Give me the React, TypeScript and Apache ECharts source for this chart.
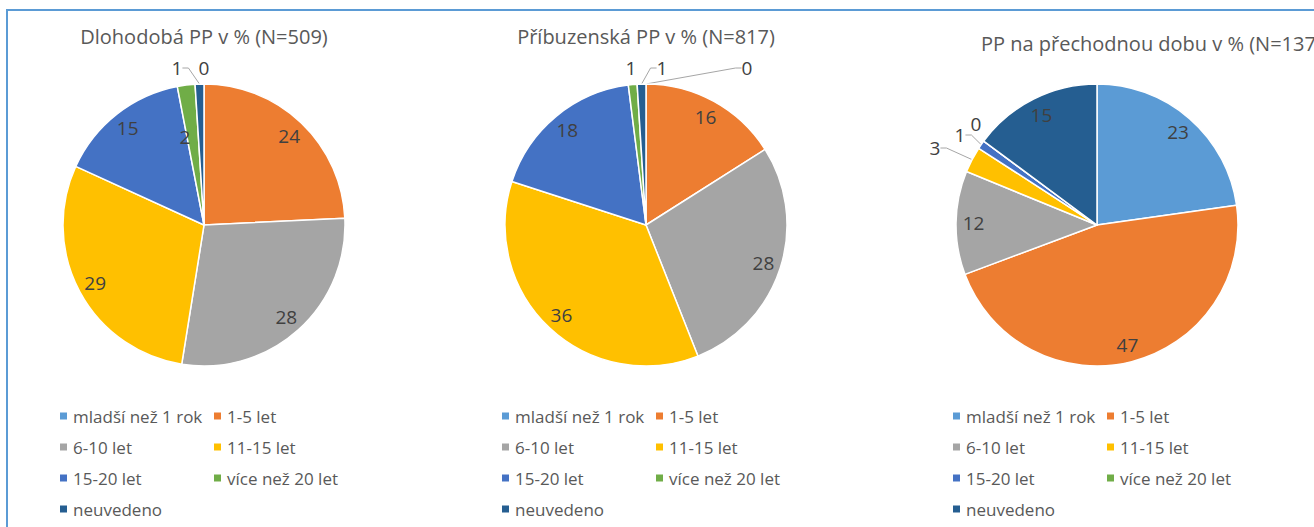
import React, { useEffect, useRef } from 'react';
import * as echarts from 'echarts';

const categories = ['mladší než 1 rok', '1-5 let', '6-10 let', '11-15 let', '15-20 let', 'více než 20 let', 'neuvedeno'];
const titles = ['Dlohodobá PP v % (N=509)', 'Příbuzenská PP v % (N=817)', 'PP na přechodnou dobu v % (N=137)'];
const dlouhodoba = [0, 24, 28, 29, 15, 2, 1];
const pribuzenska = [0, 16, 28, 36, 18, 1, 1];
const prechodna = [23, 47, 12, 3, 1, 0, 15];
const colors = ['#5B9BD5', '#ED7D31', '#A5A5A5', '#FFC000', '#4472C4', '#70AD47', '#255E91'];

const FONT = 'Open Sans';
const TXT = '#595959';
const LBL = '#404040';
const CY = 225;
const R = 141;

// small-slice labels: offset of the label centre from the pie centre, and whether a leader line is drawn
const charts = [
  {
    values: dlouhodoba, cx: 204, titleX: 204, titleAlign: 'center', titleTop: 26,
    special: { 0: { at: [0, -157], line: false }, 5: { at: [-19, -88], line: false }, 6: { at: [-27, -157], line: true } },
  },
  {
    values: pribuzenska, cx: 646, titleX: 646, titleAlign: 'center', titleTop: 26,
    special: { 0: { at: [101, -157], line: true }, 5: { at: [-15, -157], line: false }, 6: { at: [16, -157], line: true } },
  },
  {
    values: prechodna, cx: 1097, titleX: 981, titleAlign: 'left', titleTop: 33,
    special: { 3: { at: [-162, -77], line: true }, 4: { at: [-137, -90], line: true }, 5: { at: [-121, -101], line: false } },
  },
];

export default function App() {
  const ref = useRef<HTMLDivElement>(null);
  useEffect(() => {
    if (!ref.current) return;
    const chart = echarts.init(ref.current, undefined, { renderer: 'svg' });
    const mainSeries = charts.map((c) => ({
      type: 'pie',
      center: [c.cx, CY],
      radius: [0, R],
      startAngle: 90,
      clockwise: true,
      avoidLabelOverlap: false,
      data: c.values.map((v, i) => {
        const sp = (c.special as any)[i];
        return {
          name: categories[i],
          value: v,
          itemStyle: { color: colors[i] },
          label: sp ? { show: true, position: 'outside' } : { show: false },
          labelLine: { show: !!(sp && sp.line) },
        };
      }),
      itemStyle: { borderColor: '#ffffff', borderWidth: 1.5 },
      label: { fontFamily: FONT, fontSize: 19, color: LBL, formatter: '{c}' },
      labelLine: { length: 10, length2: 6, smooth: false, lineStyle: { color: '#A6A6A6', width: 1 } },
      labelLayout: (p: any) => {
        const sp = (c.special as any)[p.dataIndex];
        if (!sp) return {};
        return { x: c.cx + sp.at[0], y: CY + sp.at[1], align: 'center', verticalAlign: 'middle' };
      },
      emphasis: { disabled: true },
    }));
    const overlaySeries = charts.map((c) => ({
      type: 'pie',
      center: [c.cx, CY],
      radius: [100, R],
      startAngle: 90,
      clockwise: true,
      silent: true,
      legendHoverLink: false,
      data: c.values.map((v, i) => ({
        name: categories[i],
        value: v,
        itemStyle: { color: 'rgba(0,0,0,0)', borderWidth: 0 },
        label: { show: !(c.special as any)[i] },
      })),
      label: { position: 'inside', fontFamily: FONT, fontSize: 19, color: LBL, formatter: '{c}' },
      labelLine: { show: false },
      emphasis: { disabled: true },
    }));
    const legends: any[] = [];
    charts.forEach((c) => {
      const off = c.cx - 204;
      const base = {
        orient: 'vertical',
        top: 406,
        padding: 0,
        itemWidth: 9,
        itemHeight: 9,
        itemGap: 11,
        icon: 'rect',
        selectedMode: false,
        textStyle: { fontFamily: FONT, fontSize: 17, color: TXT, lineHeight: 20 },
      };
      legends.push({
        ...base,
        left: 58 + off,
        data: [0, 2, 4, 6].map((i) => ({ name: categories[i], itemStyle: { color: colors[i] } })),
      });
      legends.push({
        ...base,
        left: 212 + off,
        data: [1, 3, 5].map((i) => ({ name: categories[i], itemStyle: { color: colors[i] } })),
      });
    });
    chart.setOption({
      animation: false,
      backgroundColor: '#ffffff',
      title: charts.map((c, i) => ({
        text: titles[i],
        left: c.titleX,
        top: c.titleTop,
        textAlign: c.titleAlign,
        padding: 0,
        textStyle: { fontFamily: FONT, fontSize: 20, fontWeight: 'normal', color: TXT },
      })),
      legend: legends,
      series: [...mainSeries, ...overlaySeries],
      graphic: [
        {
          type: 'rect',
          shape: { x: 7, y: 10, width: 1330, height: 540 },
          style: { fill: 'none', stroke: '#5B9BD5', lineWidth: 2 },
          silent: true,
        },
      ],
    });
    return () => chart.dispose();
  }, []);
  return (
    <div
      ref={ref}
      style={{ position: 'fixed', left: 0, top: 0, width: 1314, height: 527, background: '#fff' }}
    />
  );
}
